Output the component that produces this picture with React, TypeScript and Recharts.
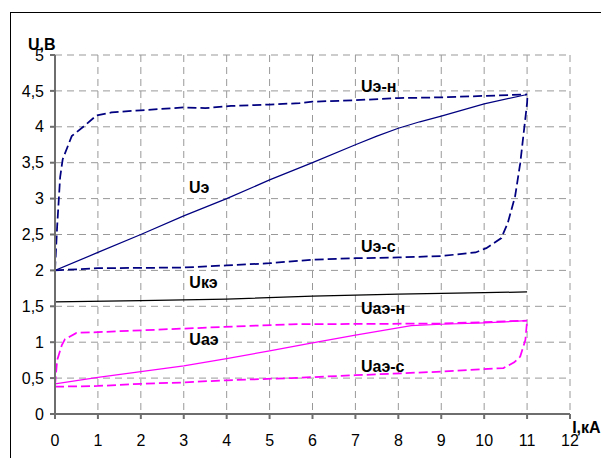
import React from 'react';
import { LineChart, Line, XAxis, YAxis, CartesianGrid, ReferenceDot } from 'recharts';

type P = [number, number];

const xTicks = [0, 1, 2, 3, 4, 5, 6, 7, 8, 9, 10, 11, 12];
const yTicks = [0, 0.5, 1, 1.5, 2, 2.5, 3, 3.5, 4, 4.5, 5];

const uEN: P[] = [[0, 2.0], [0.05, 2.61], [0.12, 3.3], [0.18, 3.55], [0.39, 3.87], [0.66, 4.0], [0.97, 4.16], [1.32, 4.2], [2, 4.23], [3, 4.27], [3.5, 4.26], [4.1, 4.29], [5, 4.31], [5.7, 4.33], [6, 4.35], [7, 4.37], [8, 4.4], [9, 4.41], [10, 4.43], [11, 4.45]];
const uE: P[] = [[0, 2.0], [1, 2.25], [2, 2.5], [3, 2.76], [4, 3.0], [5, 3.26], [6, 3.5], [7, 3.75], [7.5, 3.87], [8, 3.98], [8.5, 4.07], [9, 4.15], [10, 4.32], [11, 4.45]];
const uES: P[] = [[0, 2.0], [1, 2.03], [3, 2.04], [4, 2.07], [5, 2.1], [6, 2.15], [7, 2.17], [8, 2.18], [9, 2.2], [9.8, 2.25], [10.05, 2.31], [10.4, 2.45], [10.55, 2.66], [10.72, 3.03], [10.84, 3.49], [10.92, 3.91], [11, 4.33], [11.01, 4.45]];
const uKE: P[] = [[0, 1.56], [2, 1.58], [4, 1.6], [6, 1.64], [8, 1.67], [10, 1.69], [11, 1.7]];
const uAEN: P[] = [[0, 0.4], [0.05, 0.75], [0.16, 0.96], [0.23, 1.04], [0.35, 1.08], [0.5, 1.13], [1, 1.14], [3, 1.19], [5.5, 1.25], [9, 1.26], [11, 1.3]];
const uAE: P[] = [[0, 0.42], [1, 0.51], [2, 0.59], [3, 0.67], [4, 0.77], [5, 0.88], [6, 0.99], [7, 1.1], [8.3, 1.23], [9, 1.25], [10, 1.27], [11, 1.3]];
const uAES: P[] = [[0, 0.38], [1, 0.39], [2, 0.42], [3, 0.44], [4, 0.47], [5.5, 0.5], [7, 0.54], [9, 0.59], [10.45, 0.64], [10.7, 0.72], [10.84, 0.8], [10.96, 1.03], [11, 1.3]];

const seriesLabels: { text: string; x: number; y: number }[] = [
  { text: 'Uэ-н', x: 7.13, y: 4.49 },
  { text: 'Uэ', x: 3.12, y: 3.08 },
  { text: 'Uэ-с', x: 7.13, y: 2.26 },
  { text: 'Uкэ', x: 3.13, y: 1.75 },
  { text: 'Uаэ-н', x: 7.13, y: 1.39 },
  { text: 'Uаэ', x: 3.13, y: 0.96 },
  { text: 'Uаэ-с', x: 7.13, y: 0.59 },
];
const axisTitles: { text: string; x: number; y: number }[] = [
  { text: 'U,В', x: -0.63, y: 5.07 },
  { text: 'I,кА', x: 12.05, y: -0.26 },
];

const toPts = (a: P[]) => a.map(([x, y]) => ({ x, y }));

const FONT = '"Liberation Sans", Arial, sans-serif';
const NAVY = '#000080';
const MAG = '#FF00FF';
const DASH = '9 4';

const fmt = (v: number) => String(v).replace('.', ',');

export default function App() {
  return (
    <div style={{ position: 'absolute', left: 0, top: 0, width: 601, height: 458, overflow: 'hidden', background: '#fff' }}>
      <div style={{ position: 'absolute', left: 10, top: 12, width: 600, height: 460, borderTop: '1.5px solid #000', borderLeft: '1.5px solid #000' }} />
      <div style={{ position: 'absolute', left: 0, top: 0 }}>
        <LineChart width={601} height={458} margin={{ top: 55, right: 31, bottom: 0, left: 0 }} style={{ fontFamily: FONT }}>
          <CartesianGrid stroke="#999" strokeDasharray="7 5" strokeWidth={1} />
          <XAxis
            type="number"
            dataKey="x"
            domain={[0, 12]}
            ticks={xTicks}
            interval={0}
            height={44}
            tickSize={5}
            tickMargin={16}
            stroke="#6e6e6e"
            strokeWidth={2}
            tick={{ fill: '#000', fontSize: 16, fontFamily: FONT }}
            allowDataOverflow
          />
          <YAxis
            type="number"
            dataKey="y"
            domain={[0, 5]}
            ticks={yTicks}
            interval={0}
            width={55}
            tickSize={5}
            tickMargin={6}
            stroke="#6e6e6e"
            strokeWidth={2}
            tickFormatter={fmt}
            tick={{ fill: '#000', fontSize: 16, fontFamily: FONT }}
            allowDataOverflow
          />
          <Line data={toPts(uKE)} dataKey="y" type="linear" stroke="#000" strokeWidth={1.25} dot={false} isAnimationActive={false} />
          <Line data={toPts(uE)} dataKey="y" type="linear" stroke={NAVY} strokeWidth={1.25} dot={false} isAnimationActive={false} />
          <Line data={toPts(uEN)} dataKey="y" type="linear" stroke={NAVY} strokeWidth={1.75} strokeDasharray={DASH} dot={false} isAnimationActive={false} />
          <Line data={toPts(uES)} dataKey="y" type="linear" stroke={NAVY} strokeWidth={1.75} strokeDasharray={DASH} dot={false} isAnimationActive={false} />
          <Line data={toPts(uAE)} dataKey="y" type="linear" stroke={MAG} strokeWidth={1.25} dot={false} isAnimationActive={false} />
          <Line data={toPts(uAEN)} dataKey="y" type="linear" stroke={MAG} strokeWidth={1.75} strokeDasharray={DASH} dot={false} isAnimationActive={false} />
          <Line data={toPts(uAES)} dataKey="y" type="linear" stroke={MAG} strokeWidth={1.75} strokeDasharray={DASH} dot={false} isAnimationActive={false} />
          {[...seriesLabels, ...axisTitles].map((l) => (
            <ReferenceDot
              key={l.text}
              x={l.x}
              y={l.y}
              r={0}
              ifOverflow="visible"
              shape={(p: any) => (
                <text x={p.cx} y={p.cy} fontFamily={FONT} fontSize={16} fontWeight="bold" fill="#000" textAnchor="start">
                  {l.text}
                </text>
              )}
            />
          ))}
        </LineChart>
      </div>
    </div>
  );
}
